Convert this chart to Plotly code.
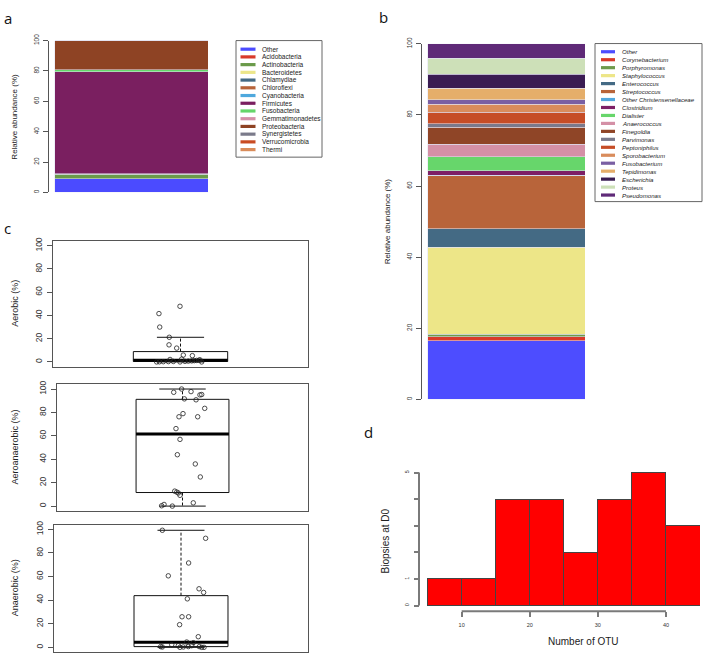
import numpy as np
import plotly.graph_objects as go

W, H = 708, 657
FONT = "Liberation Sans"

# ---------------- data ----------------
phyla = ["Other", "Acidobacteria", "Actinobacteria", "Bacteroidetes", "Chlamydiae", "Chloroflexi",
         "Cyanobacteria", "Firmicutes", "Fusobacteria", "Gemmatimonadetes", "Proteobacteria",
         "Synergistetes", "Verrucomicrobia", "Thermi"]
phyla_values = [8.9, 0.1, 3.0, 0.2, 0.05, 0.1, 0.05, 67.1, 1.2, 0.1, 19.0, 0.1, 0.05, 0.05]
phyla_colors = ["#4b4bff", "#d93a2b", "#6a9a4a", "#ece68a", "#446a85", "#b8643a", "#4ea8dd",
                "#7a1f60", "#65d66a", "#d490a8", "#8e4324", "#7a7a8a", "#c94b22", "#d98c5a"]

genera = ["Other", "Corynebacterium", "Porphyromonas", "Staphylococcus", "Enterococcus",
          "Streptococcus", "Other Christensenellaceae", "Clostridium", "Dialister", "Anaerococcus",
          "Finegoldia", "Parvimonas", "Peptoniphilus", "Sporobacterium", "Fusobacterium",
          "Tepidimonas", "Escherichia", "Proteus", "Pseudomonas"]
genera_values = [16.5, 1.1, 0.8, 24.4, 5.2, 14.9, 0.1, 1.3, 4.0, 3.4, 4.8, 1.1, 3.1, 2.3, 1.3,
                 3.2, 4.0, 4.5, 4.0]
genera_colors = ["#4d4dff", "#d83a2a", "#6f9a4c", "#ede688", "#446a84", "#b8643a", "#52a7dd",
                 "#7d1f66", "#67d66b", "#d490a6", "#8f4527", "#7a7a8c", "#c64d26", "#d98c5c",
                 "#7a5fa3", "#e5ae6a", "#3a1c52", "#cde0b8", "#5f2a78"]

aerobic = [47.9, 41.6, 30.0, 21.2, 14.7, 11.9, 5.9, 5.4,
           0.0, 0.0, 0.0, 0.1, 0.2, 0.3, 0.4, 0.5, 0.7, 0.9, 1.1, 1.3, 1.5, 1.8, 2.1, 2.4]
aerobic_jitter = [-0.004, -0.169, -0.163, -0.088, -0.090, -0.030, 0.022, 0.093,
                  -0.187, -0.004, 0.166, -0.166, -0.135, -0.095, -0.056, 0.035, 0.061, 0.088,
                  0.108, 0.127, 0.145, 0.153, -0.082, 0.009]

aeroanaerobic = [97.2, 100, 97.8, 95.0, 95.3, 91.6, 90.8, 83.5, 79.0, 76.3, 76.3, 66.2, 57.0,
                 43.9, 36.0, 24.9, 12.8, 12.0, 11.2, 9.2, 2.8, 0.3, 1.4, 0.0]
aeroanaerobic_jitter = [-0.070, -0.007, 0.068, 0.139, 0.153, 0.015, 0.108, 0.177, 0.004, -0.028,
                        0.121, -0.052, -0.020, -0.041, 0.102, 0.142, -0.062, -0.046, -0.033,
                        -0.020, 0.086, -0.166, -0.147, -0.081]

anaerobic = [99.2, 92.4, 71.5, 60.6, 49.6, 46.5, 41.1, 25.9, 25.9, 19.2, 9.0, 4.5, 3.9, 2.3, 1.4,
             0.6, 0.3, 0.0, 0.3, 0.6, 1.4, 0.6, 0.0, 0.0]
anaerobic_jitter = [-0.147, 0.194, 0.060, -0.100, 0.142, 0.178, 0.050, 0.008, 0.060, -0.011,
                    0.136, 0.045, 0.097, -0.073, -0.021, -0.160, -0.147, -0.008, 0.018, 0.058,
                    0.084, 0.144, 0.163, 0.181]

otu_bin_edges = [5, 10, 15, 20, 25, 30, 35, 40, 45]
otu_counts = [1, 1, 4, 4, 2, 4, 5, 3]
otu_xticks = [10, 20, 30, 40]
biopsy_yticks = [0, 1, 2, 3, 4, 5]
biopsy_yticklabels = ["0", "1", "", "", "", "5"]
pct_ticks = [0, 20, 40, 60, 80, 100]


# ---------------- helpers ----------------
def px(x):
    return x / W


def py(y):
    return 1 - y / H


def fivenum(v):
    x = np.sort(np.asarray(v, dtype=float))
    n = len(x)
    n4 = np.floor((n + 3) / 2) / 2
    d = np.array([1, n4, (n + 1) / 2, n + 1 - n4, n]) - 1
    return 0.5 * (x[np.floor(d).astype(int)] + x[np.ceil(d).astype(int)])


fig = go.Figure()
shapes = []
annotations = []

AX_COL = "#555555"
D_AX_COL = "#7a7a7a"

# ---------------- panel a ----------------
for name, val, col in zip(phyla, phyla_values, phyla_colors):
    fig.add_trace(go.Bar(x=[0], y=[val], width=1, name=name, marker=dict(
        color=col, line=dict(color="rgba(225,225,240,0.9)", width=0.6)),
        xaxis="x", yaxis="y", showlegend=False))

# ---------------- panel b ----------------
for name, val, col in zip(genera, genera_values, genera_colors):
    fig.add_trace(go.Bar(x=[0], y=[val], width=1, name=name, marker=dict(
        color=col, line=dict(color="rgba(225,225,240,0.9)", width=0.6)),
        xaxis="x2", yaxis="y2", showlegend=False))

# ---------------- panel c ----------------
box_sets = [(aerobic, aerobic_jitter, "x3", "y3"),
            (aeroanaerobic, aeroanaerobic_jitter, "x4", "y4"),
            (anaerobic, anaerobic_jitter, "x5", "y5")]
hw = 0.37
for vals, jit, xa, ya in box_sets:
    q0, q1, med, q3, q4 = fivenum(vals)
    iqr = q3 - q1
    arr = np.asarray(vals)
    up = arr[arr <= q3 + 1.5 * iqr].max()
    lo = arr[arr >= q1 - 1.5 * iqr].min()
    line = dict(color="#111", width=1)
    fig.add_trace(go.Scatter(x=[-hw, hw, hw, -hw, -hw], y=[q1, q1, q3, q3, q1], mode="lines",
                             line=line, xaxis=xa, yaxis=ya, showlegend=False, hoverinfo="skip"))
    fig.add_trace(go.Scatter(x=[-hw, hw], y=[med, med], mode="lines",
                             line=dict(color="#000", width=3), xaxis=xa, yaxis=ya,
                             showlegend=False, hoverinfo="skip"))
    for a, b in [(q3, up), (q1, lo)]:
        fig.add_trace(go.Scatter(x=[0, 0], y=[a, b], mode="lines",
                                 line=dict(color="#111", width=1, dash="3px,2px"),
                                 xaxis=xa, yaxis=ya, showlegend=False, hoverinfo="skip"))
        fig.add_trace(go.Scatter(x=[-hw / 2, hw / 2], y=[b, b], mode="lines", line=line,
                                 xaxis=xa, yaxis=ya, showlegend=False, hoverinfo="skip"))
    fig.add_trace(go.Scatter(x=jit, y=vals, mode="markers",
                             marker=dict(symbol="circle-open", size=4.5,
                                         line=dict(width=0.8, color="#222"), color="#222"),
                             xaxis=xa, yaxis=ya, showlegend=False))

# ---------------- panel d ----------------
centers = [(a + b) / 2 for a, b in zip(otu_bin_edges[:-1], otu_bin_edges[1:])]
widths = [b - a for a, b in zip(otu_bin_edges[:-1], otu_bin_edges[1:])]
fig.add_trace(go.Bar(x=centers, y=otu_counts, width=widths,
                     marker=dict(color="#ff0000", line=dict(color="#444", width=1)),
                     xaxis="x6", yaxis="y6", showlegend=False))


# ---------------- axes ----------------
def pct_yaxis(dom, size, standoff, anchor):
    return dict(domain=dom, range=[0, 100], tickvals=pct_ticks, ticks="outside", ticklen=5,
                tickcolor=AX_COL, showline=True, linecolor=AX_COL, linewidth=1,
                showgrid=False, zeroline=False, tickangle=-90,
                tickfont=dict(family=FONT, size=size, color="#333"),
                ticklabelstandoff=standoff, anchor=anchor)


layout = dict(
    width=W, height=H, margin=dict(l=0, r=0, t=0, b=0), paper_bgcolor="white",
    plot_bgcolor="rgba(0,0,0,0)", barmode="stack", showlegend=False,
    # a
    xaxis=dict(domain=[px(49), px(208)], range=[-0.539, 0.5], visible=False, anchor="y"),
    yaxis=pct_yaxis([py(187.7), py(34)], 6.5, 1, "x"),
    # b
    xaxis2=dict(domain=[px(422), px(585)], range=[-0.538, 0.5], visible=False, anchor="y2"),
    yaxis2=pct_yaxis([py(397.3), py(37.3)], 6.5, 1, "x2"),
)

c_frames = [("3", 53, 237, 364), ("4", 57, 382, 510), ("5", 54, 524, 653)]
for k, left, top, bot in c_frames:
    layout["xaxis" + k] = dict(domain=[px(left), px(308)], range=[-1, 1], showline=True,
                               mirror=True, linecolor=AX_COL, linewidth=1, showticklabels=False,
                               ticks="", showgrid=False, zeroline=False, anchor="y" + k)
    layout["yaxis" + k] = dict(domain=[py(bot), py(top)], range=[-4, 104], tickvals=pct_ticks,
                               ticks="outside", ticklen=5, tickcolor=AX_COL, showline=True,
                               mirror=True, linecolor=AX_COL, linewidth=1, showgrid=False,
                               zeroline=False, tickangle=-90,
                               tickfont=dict(family=FONT, size=8.5, color="#333"),
                               ticklabelstandoff=2, anchor="x" + k)

# histogram axes: R places them slightly away from the bars
D_XAXIS_Y = 611.7
D_YAXIS_X = 419
layout["xaxis6"] = dict(domain=[px(412), px(700)], range=[2.709, 45], tickvals=otu_xticks,
                        ticks="outside", ticklen=5, tickcolor=D_AX_COL, tickwidth=1.5,
                        showline=False, showgrid=False, zeroline=False,
                        tickfont=dict(family=FONT, size=5.5, color="#333"),
                        ticklabelstandoff=3, anchor="free", position=py(D_XAXIS_Y))
layout["yaxis6"] = dict(domain=[py(620), py(465.9)], range=[-0.52, 5.2],
                        tickvals=biopsy_yticks, ticktext=biopsy_yticklabels,
                        ticks="outside", ticklen=5, tickcolor=D_AX_COL, tickwidth=1.5,
                        showline=False, showgrid=False, zeroline=False, tickangle=-90,
                        tickfont=dict(family=FONT, size=5.5, color="#333"),
                        ticklabelstandoff=3, anchor="free", position=px(D_YAXIS_X))

# axis lines for histogram (R style: from first to last tick)
shapes.append(dict(type="line", xref="x6", yref="paper", x0=otu_xticks[0], x1=otu_xticks[-1],
                   y0=py(D_XAXIS_Y), y1=py(D_XAXIS_Y), line=dict(color=D_AX_COL, width=2),
                   layer="above"))
shapes.append(dict(type="line", xref="paper", yref="y6", x0=px(D_YAXIS_X), x1=px(D_YAXIS_X),
                   y0=biopsy_yticks[0], y1=biopsy_yticks[-1],
                   line=dict(color=D_AX_COL, width=2), layer="above"))


# ---------------- legends (drawn R-style) ----------------
def draw_legend(names, colors, box, first_y, step, line_x, text_x, italic, size):
    l, t, r, b = box
    shapes.append(dict(type="rect", xref="paper", yref="paper", x0=px(l), x1=px(r),
                       y0=py(b), y1=py(t), line=dict(color="#666", width=1)))
    for i, (n, c) in enumerate(zip(names, colors)):
        yy = first_y + i * step
        shapes.append(dict(type="line", xref="paper", yref="paper", x0=px(line_x[0]),
                           x1=px(line_x[1]), y0=py(yy), y1=py(yy),
                           line=dict(color=c, width=3.2)))
        txt = f"<i>{n}</i>" if italic else n
        annotations.append(dict(x=px(text_x), y=py(yy), xref="paper", yref="paper", text=txt,
                                showarrow=False, xanchor="left", yanchor="middle",
                                font=dict(family=FONT, size=size, color="#222")))


draw_legend(phyla, phyla_colors, (236, 34, 322, 152), 42.7, 7.82, (240.5, 255.5), 259.5,
            False, 6.5)
draw_legend(genera, genera_colors, (595, 37, 702, 197), 45.3, 8.06, (601, 615), 619.5,
            True, 6.1)


# ---------------- titles & panel letters ----------------
def vtitle(text, x, y, size):
    annotations.append(dict(x=px(x), y=py(y), xref="paper", yref="paper", text=text,
                            showarrow=False, textangle=-90, xanchor="center", yanchor="middle",
                            font=dict(family=FONT, size=size, color="#222")))


vtitle("Relative abundance (%)", 15, 111, 8)
vtitle("Relative abundance (%)", 387, 217, 8)
vtitle("Aerobic (%)", 15, 300.5, 9)
vtitle("Aeroanaerobic (%)", 15, 446, 9)
vtitle("Anaerobic (%)", 15, 588.5, 9)
vtitle("Biopsies at D0", 385, 540, 10)
annotations.append(dict(x=px(583), y=py(642), xref="paper", yref="paper", text="Number of OTU",
                        showarrow=False, xanchor="center", yanchor="middle",
                        font=dict(family=FONT, size=10, color="#222")))

for letter, x, y in [("a", 8, 11), ("b", 383, 10), ("c", 7, 224), ("d", 368, 430)]:
    annotations.append(dict(x=px(x), y=py(y), xref="paper", yref="paper", text=letter,
                            showarrow=False, xanchor="center", yanchor="middle",
                            font=dict(family="Open Sans", size=15, color="#111")))

layout["shapes"] = shapes
layout["annotations"] = annotations
fig.update_layout(**layout)
# remove the default page margin so the 708x657 figure fills the window exactly
fig.write_html("out.html", config={"displayModeBar": False},
               post_script="document.body.style.margin='0';document.body.style.overflow='hidden';")
